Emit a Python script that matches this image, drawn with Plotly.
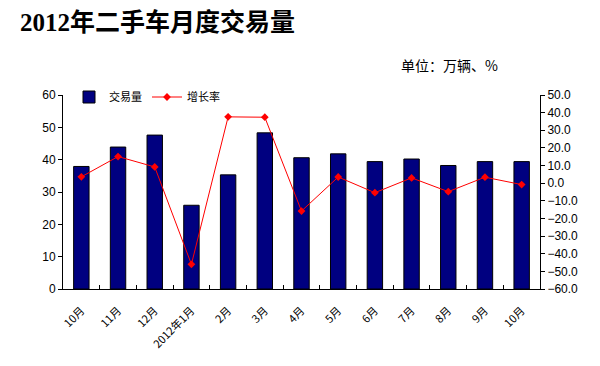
import plotly.graph_objects as go

months = ["10月", "11月", "12月", "2012年1月", "2月", "3月", "4月", "5月", "6月", "7月", "8月", "9月", "10月"]
volume = [37.9, 43.9, 47.6, 25.9, 35.3, 48.3, 40.6, 41.8, 39.4, 40.2, 38.2, 39.4, 39.4]
growth = [3.6, 15.1, 9.2, -46.0, 37.6, 37.4, -15.8, 3.5, -5.4, 3.0, -4.8, 3.4, -0.8]
x = list(range(len(months)))

# page body has an 8px default margin; compensate so the plot lands where the reference is
OFF = 8
W, H = 600 - OFF, 366 - OFF
L, T, R, B = 63 - OFF, 95 - OFF, 60, 77
PW, PH = W - L - R, H - T - B


def px(xs):
    return (xs - OFF - L) / PW


def py(ys):
    return (H - B - (ys - OFF)) / PH


fig = go.Figure()
fig.add_trace(go.Bar(
    x=x, y=volume, name="交易量", width=0.42,
    marker=dict(color="#000080", line=dict(color="#000000", width=1)),
))
fig.add_trace(go.Scatter(
    x=x, y=growth, name="增长率", yaxis="y2", mode="lines+markers",
    line=dict(color="#FF0000", width=1),
    marker=dict(symbol="diamond", size=6, color="#FF0000"),
))

tickfont = dict(family="Liberation Sans, Arial, sans-serif", size=12, color="#000000")
fig.update_layout(
    width=W, height=H,
    margin=dict(l=L, r=R, t=T, b=B, autoexpand=False),
    paper_bgcolor="white", plot_bgcolor="white",
    showlegend=True,
    legend=dict(orientation="h", x=px(69), y=py(97), xanchor="left", yanchor="middle",
                font=dict(family="Noto Sans CJK SC", size=11, color="#000000"),
                bgcolor="rgba(0,0,0,0)", itemwidth=30),
    xaxis=dict(range=[-0.5, 12.5], tickmode="array", tickvals=x, ticktext=months,
               tickangle=-45, ticks="", showline=True, linecolor="#000000", linewidth=1,
               showgrid=False, zeroline=False, ticklabelstandoff=10,
               tickfont=dict(family="Noto Sans CJK SC", size=11, color="#000000"),
               minor=dict(tickmode="array", tickvals=[i + 0.5 for i in range(12)],
                          ticks="inside", ticklen=4, tickcolor="#000000", showgrid=False)),
    yaxis=dict(range=[0, 60], dtick=10, tick0=0, showline=True, linecolor="#000000",
               linewidth=1, ticks="outside", ticklen=4, tickcolor="#000000",
               showgrid=False, zeroline=False, tickfont=tickfont),
    yaxis2=dict(range=[-60, 50], dtick=10, tick0=0, overlaying="y", side="right",
                showline=True, linecolor="#000000", linewidth=1, ticks="outside",
                ticklen=4, tickcolor="#000000", tickformat=".1f", showgrid=False,
                zeroline=False, tickfont=dict(family="Liberation Sans Narrow, Liberation Sans, Arial", size=12, color="#000000")),
    annotations=[
        dict(text="<b>2012年二手车月度交易量</b>", xref="paper", yref="paper",
             x=px(18), y=py(22), xanchor="left", yanchor="middle",
             showarrow=False,
             font=dict(family="Liberation Serif, Noto Sans CJK SC", size=25, color="#000000")),
        dict(text="单位：万辆、%", xref="paper", yref="paper",
             x=px(399), y=py(65), xanchor="left", yanchor="middle",
             showarrow=False,
             font=dict(family="Noto Sans CJK SC", size=14, color="#000000")),
    ],
)

fig.write_html("out.html")
